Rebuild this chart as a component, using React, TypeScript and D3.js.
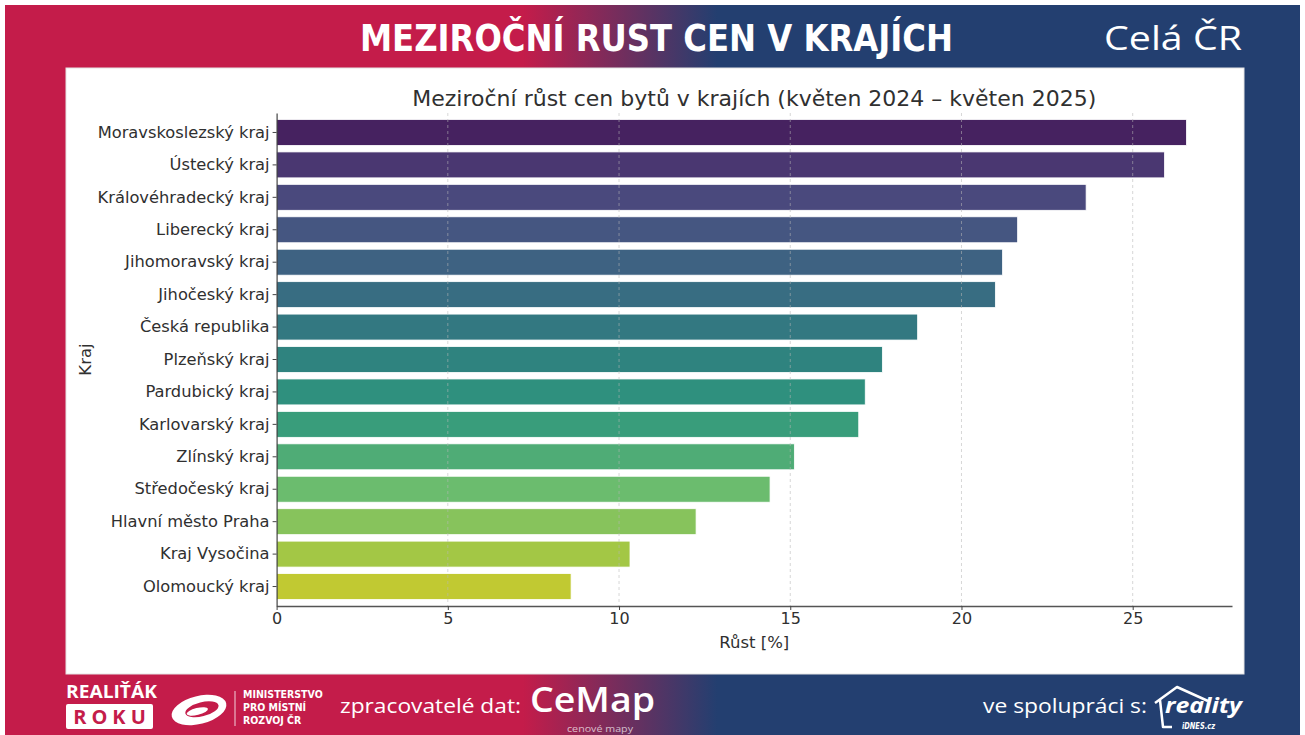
import { useEffect, useRef } from 'react';
import * as d3 from 'd3';

// Data
const regions = [
  'Moravskoslezský kraj',
  'Ústecký kraj',
  'Královéhradecký kraj',
  'Liberecký kraj',
  'Jihomoravský kraj',
  'Jihočeský kraj',
  'Česká republika',
  'Plzeňský kraj',
  'Pardubický kraj',
  'Karlovarský kraj',
  'Zlínský kraj',
  'Středočeský kraj',
  'Hlavní město Praha',
  'Kraj Vysočina',
  'Olomoucký kraj',
];
const growth = [26.57, 25.93, 23.64, 21.64, 21.2, 20.99, 18.72, 17.69, 17.19, 17.0, 15.12, 14.41, 12.25, 10.32, 8.6];
const xTicks = [0, 5, 10, 15, 20, 25];
const ministryLines = ['MINISTERSTVO', 'PRO MÍSTNÍ', 'ROZVOJ ČR'];

const RED = '#c41c4a';
const NAVY = '#233f70';
const TEXT = '#303030';

export default function App() {
  const svgRef = useRef<SVGSVGElement>(null);

  useEffect(() => {
    if (!svgRef.current) return;
    const svg = d3.select(svgRef.current);
    svg.selectAll('*').remove();

    // background frame with red -> navy gradient
    const defs = svg.append('defs');
    const grad = defs.append('linearGradient')
      .attr('id', 'bg')
      .attr('x1', '0').attr('x2', '1').attr('y1', '0').attr('y2', '0');
    grad.append('stop').attr('offset', '0.40').attr('stop-color', RED);
    grad.append('stop').attr('offset', '0.55').attr('stop-color', NAVY);
    grad.append('stop').attr('offset', '1').attr('stop-color', NAVY);

    svg.append('rect').attr('width', 1305).attr('height', 735).attr('fill', '#fff');
    svg.append('rect')
      .attr('x', 5).attr('y', 5)
      .attr('width', 1295).attr('height', 730)
      .attr('fill', 'url(#bg)');

    // header
    svg.append('text')
      .attr('x', 360).attr('y', 51)
      .attr('textLength', 593)
      .attr('lengthAdjust', 'spacingAndGlyphs')
      .style('font-family', '"DejaVu Sans Condensed", "DejaVu Sans", sans-serif')
      .style('font-weight', 'bold')
      .style('font-size', '37px')
      .attr('fill', '#fff')
      .text('MEZIROČNÍ RUST CEN V KRAJÍCH');

    svg.append('text')
      .attr('x', 1104).attr('y', 50)
      .attr('textLength', 138)
      .attr('lengthAdjust', 'spacingAndGlyphs')
      .style('font-family', '"Open Sans", sans-serif')
      .style('font-size', '33px')
      .attr('fill', '#fff')
      .text('Celá ČR');

    // white chart panel
    svg.append('rect')
      .attr('x', 66).attr('y', 68)
      .attr('width', 1178).attr('height', 606)
      .attr('fill', '#fff')
      .attr('stroke', '#e4e4e4');

    const margin = { top: 113, right: 1232, bottom: 606, left: 276.6 };

    const x = d3.scaleLinear()
      .domain([0, 27.9])
      .range([margin.left, margin.right]);

    const y = d3.scaleBand()
      .domain(regions)
      .range([margin.top, margin.bottom])
      .padding(0.2);

    // seaborn style viridis, desaturated
    const color = (i: number) => {
      const c = d3.hsl(d3.interpolateViridis((i + 1) / (regions.length + 1)));
      c.s *= 0.75;
      return c.formatHex();
    };

    const g = svg.append('g');

    // bars
    g.selectAll('.bar')
      .data(regions)
      .enter()
      .append('rect')
      .attr('class', 'bar')
      .attr('x', x(0))
      .attr('y', d => y(d)!)
      .attr('width', (d, i) => x(growth[i]) - x(0))
      .attr('height', y.bandwidth())
      .attr('fill', (d, i) => color(i))
      .attr('stroke', '#ffffff')
      .attr('stroke-width', 0.8);

    // dashed grid, on top of bars
    g.selectAll('.grid')
      .data(xTicks.filter(t => t > 0))
      .enter()
      .append('line')
      .attr('x1', d => x(d)).attr('x2', d => x(d))
      .attr('y1', margin.top).attr('y2', margin.bottom)
      .attr('stroke', '#b8b8b8')
      .attr('stroke-opacity', 0.7)
      .attr('stroke-dasharray', '3,3')
      .attr('stroke-width', 0.8);

    // axes
    const xAxis = g.append('g')
      .attr('transform', `translate(0,${margin.bottom})`)
      .call(d3.axisBottom(x).tickValues(xTicks).tickSize(4).tickSizeOuter(0).tickFormat(d3.format('d')));
    xAxis.select('.domain').attr('stroke', '#555').attr('stroke-width', 1.6);
    xAxis.selectAll('.tick line').attr('stroke', '#444');
    xAxis.selectAll('text')
      .attr('fill', TEXT)
      .style('font-family', '"DejaVu Sans", sans-serif')
      .style('font-size', '16px');

    const yAxis = g.append('g')
      .attr('transform', `translate(${margin.left},0)`)
      .call(d3.axisLeft(y).tickSize(4).tickSizeOuter(0));
    yAxis.select('.domain').attr('stroke', '#444').attr('stroke-width', 1.2);
    yAxis.selectAll('.tick line').attr('stroke', '#444');
    yAxis.selectAll('text')
      .attr('fill', TEXT)
      .style('font-family', '"DejaVu Sans", sans-serif')
      .style('font-size', '16.3px');

    // titles
    svg.append('text')
      .attr('x', (margin.left + margin.right) / 2)
      .attr('y', 106)
      .attr('text-anchor', 'middle')
      .attr('fill', TEXT)
      .style('font-family', '"DejaVu Sans", sans-serif')
      .style('font-size', '22px')
      .text('Meziroční růst cen bytů v krajích (květen 2024 – květen 2025)');

    svg.append('text')
      .attr('x', (margin.left + margin.right) / 2)
      .attr('y', 648)
      .attr('text-anchor', 'middle')
      .attr('fill', TEXT)
      .style('font-family', '"DejaVu Sans", sans-serif')
      .style('font-size', '16.5px')
      .text('Růst [%]');

    svg.append('text')
      .attr('transform', `translate(91,${(margin.top + margin.bottom) / 2}) rotate(-90)`)
      .attr('text-anchor', 'middle')
      .attr('fill', TEXT)
      .style('font-family', '"DejaVu Sans", sans-serif')
      .style('font-size', '16.5px')
      .text('Kraj');

    // footer: Realiťák roku
    const foot = svg.append('g').attr('fill', '#fff');
    foot.append('text')
      .attr('x', 66).attr('y', 698)
      .attr('textLength', 91)
      .attr('lengthAdjust', 'spacingAndGlyphs')
      .style('font-family', '"Open Sans", sans-serif')
      .style('font-weight', 'bold')
      .style('font-size', '17px')
      .text('REALIŤÁK');
    foot.append('rect')
      .attr('x', 66).attr('y', 704)
      .attr('width', 87).attr('height', 25)
      .attr('rx', 2);
    foot.append('text')
      .attr('x', 112).attr('y', 724)
      .attr('text-anchor', 'middle')
      .attr('fill', RED)
      .style('font-family', '"Open Sans", sans-serif')
      .style('font-weight', 'bold')
      .style('font-size', '20px')
      .style('letter-spacing', '5px')
      .text('ROKU');

    // ministry emblem (rough)
    const emb = foot.append('g').attr('transform', 'translate(199,710) rotate(-14)');
    emb.append('ellipse').attr('rx', 28).attr('ry', 14).attr('fill', '#fff');
    emb.append('ellipse').attr('cx', 3).attr('rx', 17).attr('ry', 7).attr('fill', RED);
    emb.append('ellipse').attr('cx', -2).attr('cy', 1).attr('rx', 11).attr('ry', 3.5).attr('fill', '#fff');
    foot.append('line')
      .attr('x1', 235).attr('x2', 235)
      .attr('y1', 691).attr('y2', 726)
      .attr('stroke', '#fff')
      .attr('stroke-opacity', 0.8);
    foot.selectAll('.min')
      .data(ministryLines)
      .enter()
      .append('text')
      .attr('x', 243)
      .attr('y', (d, i) => 698 + i * 13)
      .style('font-family', '"DejaVu Sans Condensed", sans-serif')
      .style('font-weight', 'bold')
      .style('font-size', '10.5px')
      .text(d => d);

    // data provider
    foot.append('text')
      .attr('x', 340).attr('y', 713)
      .attr('textLength', 181)
      .attr('lengthAdjust', 'spacingAndGlyphs')
      .style('font-family', '"Open Sans", sans-serif')
      .style('font-size', '20px')
      .text('zpracovatelé dat:');
    foot.append('text')
      .attr('x', 530).attr('y', 712)
      .attr('textLength', 125)
      .attr('lengthAdjust', 'spacingAndGlyphs')
      .style('font-family', '"Open Sans", sans-serif')
      .style('font-weight', '600')
      .style('font-size', '34px')
      .text('CeMap');
    foot.append('text')
      .attr('x', 567).attr('y', 732)
      .attr('textLength', 66)
      .attr('lengthAdjust', 'spacingAndGlyphs')
      .attr('fill-opacity', 0.7)
      .style('font-family', '"Open Sans", sans-serif')
      .style('font-size', '9px')
      .text('cenové mapy');

    // partner
    foot.append('text')
      .attr('x', 983).attr('y', 713)
      .attr('textLength', 164)
      .attr('lengthAdjust', 'spacingAndGlyphs')
      .style('font-family', '"Open Sans", sans-serif')
      .style('font-size', '20px')
      .text('ve spolupráci s:');
    foot.append('path')
      .attr('d', 'M1155,703 L1177,687 L1208,701 M1160,700 L1163,727 L1172,727')
      .attr('fill', 'none')
      .attr('stroke', '#fff')
      .attr('stroke-width', 2.5)
      .attr('stroke-linejoin', 'round');
    foot.append('text')
      .attr('x', 1165).attr('y', 713)
      .attr('textLength', 77)
      .attr('lengthAdjust', 'spacingAndGlyphs')
      .style('font-family', '"Open Sans", sans-serif')
      .style('font-weight', 'bold')
      .style('font-style', 'italic')
      .style('font-size', '21px')
      .text('reality');
    foot.append('text')
      .attr('x', 1182).attr('y', 729)
      .attr('textLength', 33)
      .attr('lengthAdjust', 'spacingAndGlyphs')
      .style('font-family', '"DejaVu Sans Condensed", sans-serif')
      .style('font-weight', 'bold')
      .style('font-style', 'italic')
      .style('font-size', '8.5px')
      .text('iDNES.cz');
  }, []);

  return (
    <div style={{ position: 'absolute', left: 0, top: 0, width: 1305, height: 735 }}>
      <svg ref={svgRef} width={1305} height={735} style={{ display: 'block' }} />
    </div>
  );
}
